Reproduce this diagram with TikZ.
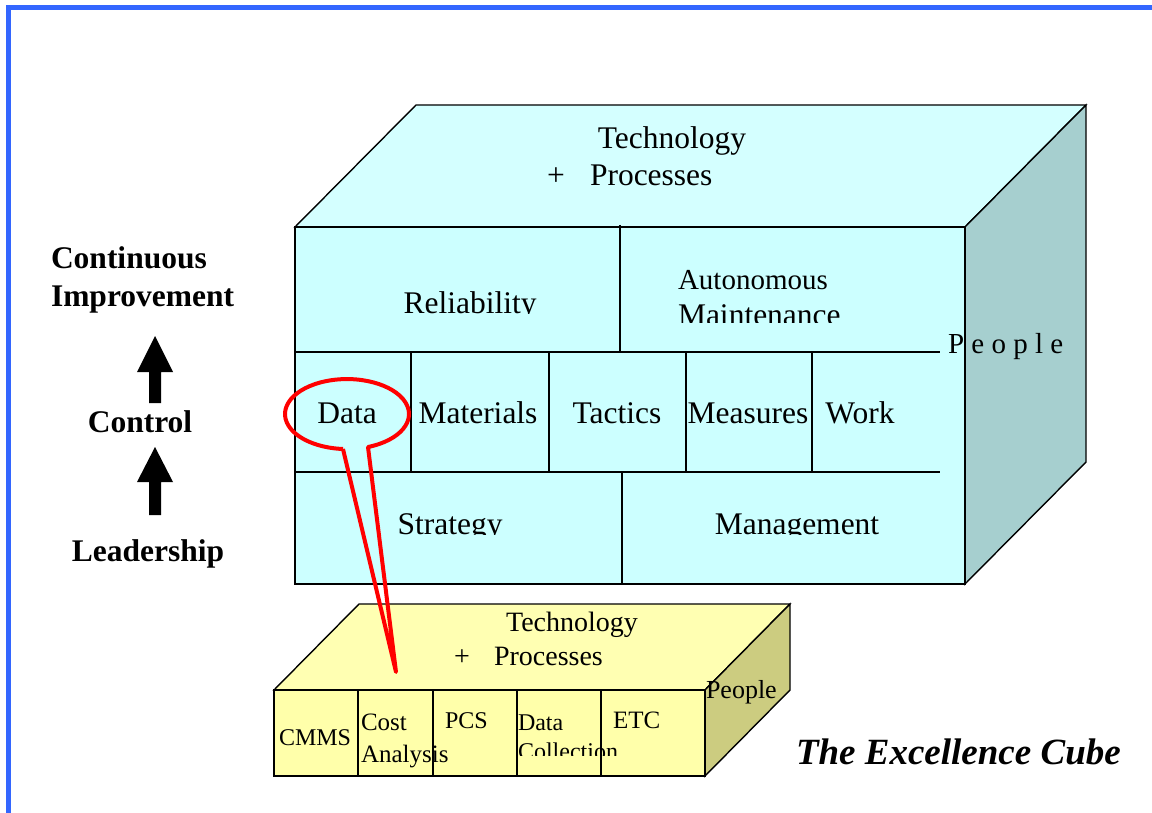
\documentclass[tikz,border=0pt]{standalone}
\usepackage{fontspec}
\setmainfont{Liberation Serif}
\definecolor{bframe}{RGB}{51,102,255}
\definecolor{cfront}{RGB}{204,255,255}
\definecolor{ctop}{RGB}{212,255,255}
\definecolor{cside}{RGB}{166,207,207}
\definecolor{yfront}{RGB}{255,255,170}
\definecolor{ytop}{RGB}{255,255,178}
\definecolor{yside}{RGB}{204,204,128}
\definecolor{callred}{RGB}{255,0,0}
\tikzset{
  facebox/.style={draw=black, line width=1.4pt, line join=miter},
  divline/.style={draw=black, line width=1.3pt},
  lbl/.style={inner sep=0pt, outer sep=0pt},
  big/.style={lbl, font=\fontsize{31.5}{36}\selectfont},
  small/.style={lbl, font=\fontsize{25}{30}\selectfont},
  side/.style={lbl, font=\bfseries\fontsize{31.5}{36}\selectfont},
  uparrow/.style={fill=black, draw=none},
}
\begin{document}
\begin{tikzpicture}[x=1pt, y=-1pt]
\useasboundingbox (0,0) rectangle (1152,813);
% blue frame
\draw[bframe, line width=5pt] (8.5,813) -- (8.5,7.5) -- (1152,7.5);

% ---------- big cube ----------
\filldraw[facebox, fill=ctop] (295,227) -- (416,105) -- (1086,105) -- (965,227) -- cycle;
\filldraw[facebox, fill=cside] (965,227) -- (1086,105) -- (1086,462) -- (965,584) -- cycle;
\filldraw[facebox, fill=cfront] (295,227) rectangle (965,584);
\draw[divline] (295,352) -- (940,352);
\draw[divline] (620,225) -- (620,352);
\draw[divline] (295,472) -- (940,472);
\foreach \xx in {411,549,686,812} \draw[divline] (\xx,352) -- (\xx,472);
\draw[divline] (622,472) -- (622,584);

\node[big, anchor=base] (ttech) at (672,149) {Technology};
\node[big, anchor=base] (tplus) at (556,186) {+};
\node[big, anchor=base west] (tproc) at (590,186) {Processes};
\begin{scope}
  \clip (296,228) rectangle (619,313.5);
  \node[big, anchor=base] (rel) at (470,313) {Reliability};
\end{scope}
\node[lbl, font=\fontsize{29}{34}\selectfont, anchor=base west] (auto1) at (678,290) {Autonomous};
\begin{scope}
  \clip (621,228) rectangle (960,322.5);
  \node[big, anchor=base west] (auto2) at (678,325) {Maintenance};
\end{scope}
\node[lbl, font=\fontsize{29}{34}\selectfont, anchor=base west] (peopleA) at (948,353) {P e o p l e};
\node[big, anchor=base] (data) at (347,423) {Data};
\node[big, anchor=base] (mat) at (478,423) {Materials};
\node[big, anchor=base] (tac) at (617,423) {Tactics};
\node[big, anchor=base] (meas) at (748,423) {Measures};
\node[big, anchor=base] (work) at (860,423) {Work};
\begin{scope}
  \clip (296,473) rectangle (960,534);
  \node[big, anchor=base] (strat) at (450,534) {Strategy};
  \node[big, anchor=base] (mgmt) at (797,534) {Management};
\end{scope}

% ---------- left labels ----------
\node[side, anchor=base west] (ci1) at (51,269) {Continuous};
\node[side, anchor=base west] (ci2) at (51,306) {Improvement};
\node[side, anchor=base] (ctrl) at (140,432) {Control};
\node[side, anchor=base] (lead) at (148,561) {Leadership};
\fill[uparrow] (155,336) -- (173,372) -- (161,372) -- (161,403) -- (149,403) -- (149,372) -- (137,372) -- cycle;
\fill[uparrow] (155,447) -- (173,482) -- (161,482) -- (161,515) -- (149,515) -- (149,482) -- (137,482) -- cycle;

% ---------- small cube ----------
\filldraw[facebox, fill=ytop] (274,690) -- (359,604) -- (790,604) -- (705,690) -- cycle;
\filldraw[facebox, fill=yside] (705,690) -- (790,604) -- (790,690) -- (705,776) -- cycle;
\filldraw[facebox, fill=yfront] (274,690) rectangle (705,776);
\foreach \xx in {358,433,517,601} \draw[divline] (\xx,690) -- (\xx,776);

\node[lbl, font=\fontsize{28}{32}\selectfont, anchor=base] (stech) at (572,631) {Technology};
\node[lbl, font=\fontsize{28}{32}\selectfont, anchor=base] (splus) at (462,665) {+};
\node[lbl, font=\fontsize{28}{32}\selectfont, anchor=base west] (sproc) at (494,665) {Processes};
\node[lbl, font=\fontsize{26}{30}\selectfont, anchor=base west] (speople) at (706,698) {People};
\node[lbl, font=\fontsize{24}{28}\selectfont, anchor=base west] (cmms) at (279,745) {CMMS};
\node[small, anchor=base west] (cost1) at (361,730) {Cost};
\node[small, anchor=base west] (cost2) at (361,762) {Analysis};
\node[lbl, font=\fontsize{24}{28}\selectfont, anchor=base west] (pcs) at (445,728) {PCS};
\node[lbl, font=\fontsize{24}{28}\selectfont, anchor=base west] (sdata1) at (518,730) {Data};
\begin{scope}
  \clip (518,735) rectangle (640,755);
  \node[lbl, font=\fontsize{24}{28}\selectfont, anchor=base west] (sdata2) at (518,759) {Collection};
\end{scope}
\node[lbl, font=\fontsize{25}{30}\selectfont, anchor=base west] (etc) at (613,728) {ETC};

% ---------- title ----------
\node[lbl, font=\bfseries\itshape\fontsize{37}{42}\selectfont, anchor=base west] (title) at (796,764) {The Excellence Cube};

% ---------- red callout ----------
\coordinate (calltip) at (396,672);
\draw[callred, line width=4pt, line join=round] (343,449) -- (calltip) -- (368,447)
  arc[start angle=70.2, end angle=-266.3, x radius=62, y radius=35];
\end{tikzpicture}
\end{document}
